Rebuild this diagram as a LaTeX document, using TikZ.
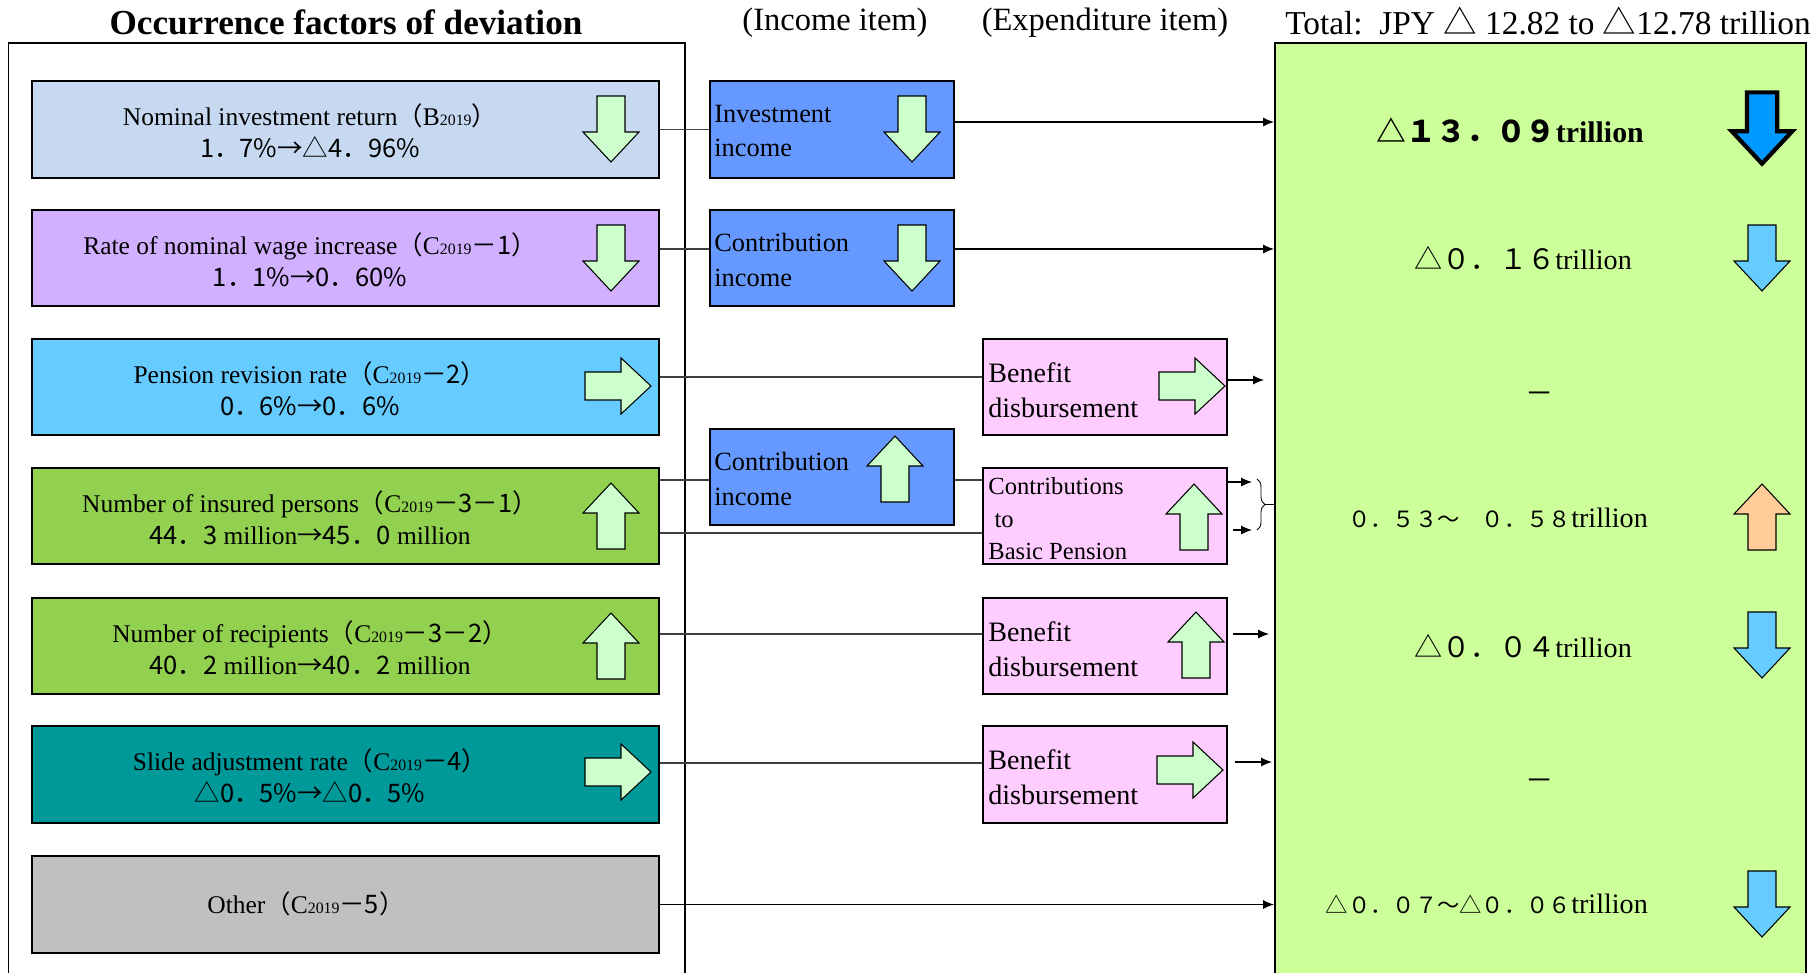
\documentclass[tikz,border=0pt]{standalone}
\usepackage{fontspec}
\setmainfont{Liberation Serif}
\newfontfamily\jp{Noto Sans CJK JP}
\usetikzlibrary{arrows.meta, positioning, calc, decorations.pathreplacing}

\definecolor{facblue}{HTML}{C6D9F1}
\definecolor{faclilac}{HTML}{D0B0FF}
\definecolor{facsky}{HTML}{66CCFF}
\definecolor{facgreen}{HTML}{92D050}
\definecolor{facteal}{HTML}{009999}
\definecolor{facgray}{HTML}{C0C0C0}
\definecolor{incblue}{HTML}{6699FF}
\definecolor{exppink}{HTML}{FFCCFF}
\definecolor{totgreen}{HTML}{CCFF99}
\definecolor{arrmint}{HTML}{CCFFCC}
\definecolor{arrdeep}{HTML}{0099FF}
\definecolor{arrorange}{HTML}{FFCC99}

\tikzset{
    factor/.style={rectangle, draw=black, line width=1.1pt, minimum width=125.4mm, minimum height=19.3mm},
    income/.style={rectangle, draw=black, line width=1.1pt, fill=incblue, minimum width=48.8mm, minimum height=19.3mm},
    expense/.style={rectangle, draw=black, line width=1.1pt, fill=exppink, minimum width=48.8mm, minimum height=19.3mm},
    factext/.style={align=center, font=\fontsize{14.5}{18}\selectfont},
    boxtext/.style={anchor=west, align=left, inner sep=0pt, font=\fontsize{16}{20}\selectfont},
    headtext/.style={font=\fontsize{18.5}{21}\selectfont},
    result/.style={anchor=east, font=\fontsize{16}{18}\selectfont},
    link/.style={black!75, line width=0.6pt},
    flow/.style={black, line width=0.6pt, -{Latex[length=2.2mm, width=1.8mm]}}
}

% block arrow: centre, angle (0 down, 90 right, 180 up), fill, extra options
\newcommand{\blockarr}[4]{%
  \begin{scope}[shift={(#1)}, rotate=#2, #4]
    \draw[fill=#3] (-14,-33) -- (14,-33) -- (14,3) -- (28,3) -- (0,33) -- (-28,3) -- (-14,3) -- cycle;
  \end{scope}}
\newcommand{\yrsub}{{\fontsize{9}{9}\selectfont 2019}}
\newcommand{\fwl}{{\jp （}}
\newcommand{\fwr}{{\jp ）}}
\newcommand{\smalljp}{\jp\fontsize{12.7}{18}\selectfont}

\begin{document}
\begin{tikzpicture}[x=0.2mm, y=-0.2mm]
    \useasboundingbox (0,0) rectangle (1818,972);

    % Headings
    \node (ttl) [headtext, font=\fontsize{20}{24}\selectfont] at (346,22) {\bfseries Occurrence factors of deviation};
    \node (hinc) [headtext] at (835,23) {(Income item)};
    \node (hexp) [headtext] at (1105,23) {(Expenditure item)};
    \node (htot) [headtext, font=\fontsize{19}{21}\selectfont] at (1548,21) {Total:~~JPY {\jp △} 12.82 to {\jp △}12.78 trillion};

    % Frames
    \node (frame) [draw=black, line width=0.5pt, minimum width=135.4mm, minimum height=189.4mm] at (346.5,516.5) {};
    \draw[line width=1.1pt] (frame.south east) -- (frame.north east) -- (frame.north west);
    \node (total) [draw=black, line width=1.1pt, fill=totgreen, minimum width=106.2mm, minimum height=189.4mm] at (1540.5,516.5) {};

    % Occurrence factors
    \node (f1) [factor, fill=facblue] at (345.5,129.5) {};
    \node (f2) [factor, fill=faclilac] at (345.5,258) {};
    \node (f3) [factor, fill=facsky] at (345.5,387) {};
    \node (f4) [factor, fill=facgreen] at (345.5,516) {};
    \node (f5) [factor, fill=facgreen] at (345.5,646) {};
    \node (f6) [factor, fill=facteal] at (345.5,774.5) {};
    \node (f7) [factor, fill=facgray] at (345.5,904.5) {};

    \node (f1t) [factext] at (310,131) {Nominal investment return\fwl B\yrsub\fwr\\{\jp 1．7\%→△4．96\%}};
    \node (f2t) [factext] at (310,260) {Rate of nominal wage increase\fwl C\yrsub{\jp －1}\fwr\\{\jp 1．1\%→0．60\%}};
    \node (f3t) [factext] at (310,389) {Pension revision rate\fwl C\yrsub{\jp －2}\fwr\\{\jp 0．6\%→0．6\%}};
    \node (f4t) [factext] at (310,518) {Number of insured persons\fwl C\yrsub{\jp －3－1}\fwr\\{\jp 44．3} million{\jp →45．0} million};
    \node (f5t) [factext] at (310,648) {Number of recipients\fwl C\yrsub{\jp －3－2}\fwr\\{\jp 40．2} million{\jp →40．2} million};
    \node (f6t) [factext] at (310,776) {Slide adjustment rate\fwl C\yrsub{\jp －4}\fwr\\{\jp △0．5\%→△0．5\%}};
    \node (f7t) [factext] at (306,904) {Other\fwl C\yrsub{\jp －5}\fwr};

    % Income items
    \node (inc1) [income] at (832,129.5) {};
    \node (inc2) [income] at (832,258) {};
    \node (inc3) [income] at (832,477) {};
    \node (inc1t) [boxtext, font=\fontsize{15}{19.5}\selectfont] at (714,131) {Investment\\income};
    \node (inc2t) [boxtext, font=\fontsize{15}{19.5}\selectfont] at (714,260) {Contribution\\income};
    \node (inc3t) [boxtext, font=\fontsize{15}{19.5}\selectfont] at (714,479) {Contribution\\income};

    % Expenditure items
    \node (exp3) [expense] at (1105,387) {};
    \node (exp4) [expense] at (1105,516) {};
    \node (exp5) [expense] at (1105,646) {};
    \node (exp6) [expense] at (1105,774.5) {};
    \node (exp3t) [boxtext] at (988,390) {Benefit\\disbursement};
    \node (exp4t) [boxtext, font=\fontsize{14}{18.5}\selectfont] at (988,519) {Contributions\\\ to\\Basic Pension};
    \node (exp5t) [boxtext] at (988,649) {Benefit\\disbursement};
    \node (exp6t) [boxtext] at (988,777) {Benefit\\disbursement};

    % Block arrows
    \blockarr{611,129}{0}{arrmint}{line width=0.6pt}
    \blockarr{611,258}{0}{arrmint}{line width=0.6pt}
    \blockarr{618,386}{90}{arrmint}{line width=0.6pt}
    \blockarr{611,516}{180}{arrmint}{line width=0.6pt}
    \blockarr{611,646}{180}{arrmint}{line width=0.6pt}
    \blockarr{618,772}{90}{arrmint}{line width=0.6pt}
    \blockarr{912,129}{0}{arrmint}{line width=0.6pt}
    \blockarr{912,258}{0}{arrmint}{line width=0.6pt}
    \blockarr{895,469}{180}{arrmint}{line width=0.6pt}
    \blockarr{1192,386}{90}{arrmint}{line width=0.6pt}
    \blockarr{1194,517}{180}{arrmint}{line width=0.6pt}
    \blockarr{1196,645}{180}{arrmint}{line width=0.6pt}
    \blockarr{1190,770}{90}{arrmint}{line width=0.6pt}
    \blockarr{1762,128}{0}{arrdeep}{line width=2.4pt, scale=1.08}
    \blockarr{1762,258}{0}{facsky}{line width=0.6pt}
    \blockarr{1762,517}{180}{arrorange}{line width=0.6pt}
    \blockarr{1762,645}{0}{facsky}{line width=0.6pt}
    \blockarr{1762,904}{0}{facsky}{line width=0.6pt}

    % Results
    \node (r1) [result, font=\fontsize{17}{20}\selectfont] at (1650,130) {\bfseries{\jp △１３．０９}trillion};
    \node (r2) [result] at (1638,258) {{\jp △０．１６}trillion};
    \node (r3) [result, anchor=center] at (1540,398) {{\jp －}};
    \node (r4) [result] at (1654,518) {{\smalljp ０．５３～　０．５８}trillion};
    \node (r5) [result] at (1638,646) {{\jp △０．０４}trillion};
    \node (r6) [result, anchor=center] at (1540,785) {{\jp －}};
    \node (r7) [result] at (1654,904) {{\smalljp △０．０７～△０．０６}trillion};

    % Flows
    \draw[link] (f1.east) -- (inc1.west);
    \draw[flow] (inc1.east |- 0,122) -- (total.west |- 0,122);
    \draw[link] (f2.east |- 0,249) -- (inc2.west |- 0,249);
    \draw[flow] (inc2.east |- 0,249) -- (total.west |- 0,249);
    \draw[link] (f3.east |- 0,377) -- (exp3.west |- 0,377);
    \draw[flow, shorten >=2mm] (exp3.east |- 0,380) -- (total.west |- 0,380);
    \draw[link] (f4.east |- 0,480) -- (inc3.west |- 0,480);
    \draw[link] (inc3.east |- 0,480) -- (exp4.west |- 0,480);
    \draw[link] (f4.east |- 0,533) -- (exp4.west |- 0,533);
    \coordinate (brtop) at (1257,479);
    \coordinate (brbot) at (1257,530);
    \draw[flow, shorten >=1mm] (exp4.east |- 0,482) -- (brtop |- 0,482);
    \draw[flow, shorten <=1mm, shorten >=1mm] (exp4.east |- 0,530) -- (brtop |- 0,530);
    \draw[decorate, decoration={brace, amplitude=1.6mm}, line width=0.5pt] (brtop) -- (brbot);
    \draw[line width=0.5pt] (1265,504.5) -- (total.west |- 0,504.5);
    \draw[link] (f5.east |- 0,634) -- (exp5.west |- 0,634);
    \draw[flow, shorten <=1mm, shorten >=1mm] (exp5.east |- 0,634) -- (total.west |- 0,634);
    \draw[link] (f6.east |- 0,763) -- (exp6.west |- 0,763);
    \draw[flow, shorten <=1.4mm, shorten >=0.4mm] (exp6.east |- 0,762) -- (total.west |- 0,762);
    \draw[flow] (f7.east) -- (total.west |- f7.east);
\end{tikzpicture}
\end{document}
